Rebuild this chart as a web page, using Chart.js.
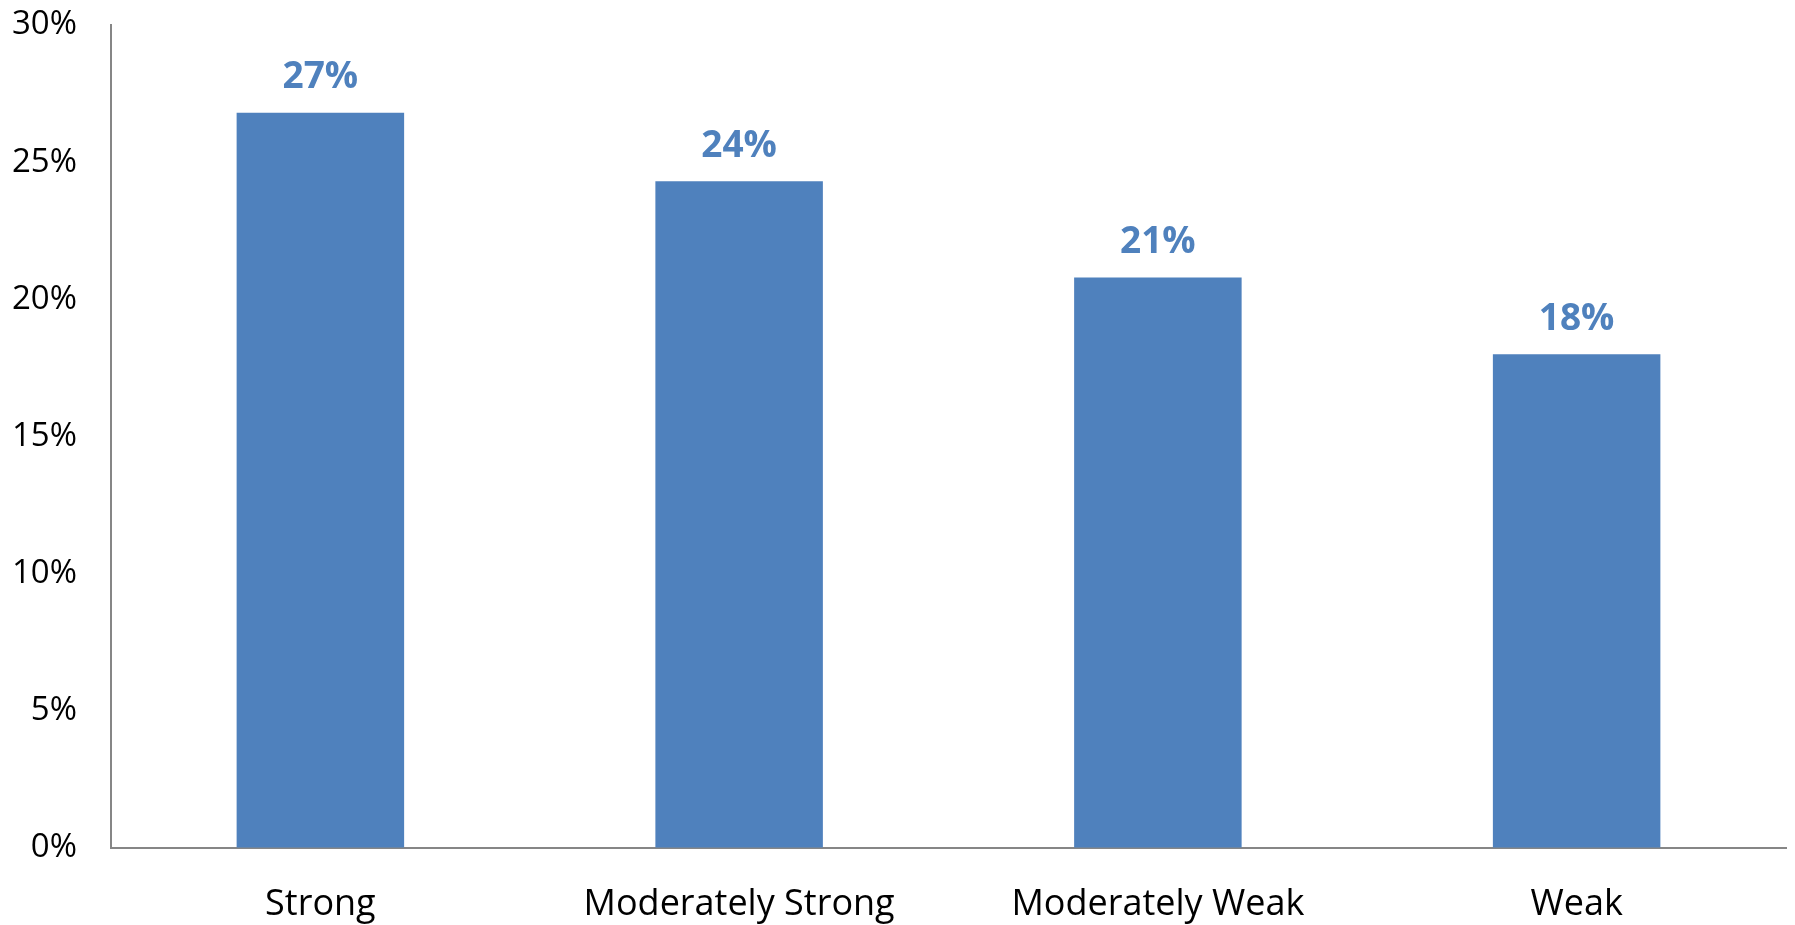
<!DOCTYPE html>
<html>
<head>
<meta charset="utf-8">
<script src="https://cdn.jsdelivr.net/npm/chart.js@4"></script>
<style>
  html, body { margin: 0; padding: 0; background: #fff; }
  #wrap { width: 1795px; height: 925px; }
</style>
</head>
<body>
<div id="wrap"><canvas id="strengthChart"></canvas></div>
<script>
// chart data
const categories = ['Strong', 'Moderately Strong', 'Moderately Weak', 'Weak'];
const shares = [26.8, 24.3, 20.8, 18.0];
const shareLabels = ['27%', '24%', '21%', '18%'];
const yTicks = [0, 5, 10, 15, 20, 25, 30];

const barColor = '#4F81BD';
const axisColor = '#868686';
const fontFamily = '"Open Sans", "Noto Sans", sans-serif';

// draws the value label above each bar
const barLabels = {
  id: 'barLabels',
  afterDatasetsDraw(chart) {
    const ctx = chart.ctx;
    const meta = chart.getDatasetMeta(0);
    ctx.save();
    ctx.fillStyle = barColor;
    ctx.font = 'bold 37px ' + fontFamily;
    ctx.textAlign = 'center';
    ctx.textBaseline = 'middle';
    meta.data.forEach(function(bar, i) {
      ctx.fillText(shareLabels[i], bar.x, bar.y - 35);
    });
    ctx.restore();
  }
};

document.addEventListener('DOMContentLoaded', function() {
  const ctx = document.getElementById('strengthChart').getContext('2d');
  new Chart(ctx, {
    type: 'bar',
    data: {
      labels: categories,
      datasets: [{
        data: shares,
        backgroundColor: barColor,
        categoryPercentage: 1,
        barPercentage: 0.4
      }]
    },
    options: {
      responsive: true,
      maintainAspectRatio: false,
      animation: false,
      plugins: {
        legend: { display: false },
        tooltip: { enabled: false }
      },
      layout: {
        padding: { top: 25, right: 9, left: 0, bottom: 0 }
      },
      scales: {
        y: {
          min: 0,
          max: 30,
          afterFit: function(scale) {
            scale.width = 111;
            scale.paddingTop = 0;
            scale.paddingBottom = 0;
          },
          afterBuildTicks: function(scale) {
            scale.ticks = yTicks.map(function(v) { return { value: v }; });
          },
          grid: { drawOnChartArea: false, drawTicks: false },
          border: { color: axisColor, width: 2 },
          ticks: {
            padding: 34,
            color: '#000',
            font: { family: fontFamily, size: 33 },
            callback: function(v) { return v + '%'; }
          }
        },
        x: {
          afterFit: function(scale) { scale.height = 77; },
          grid: { drawOnChartArea: false, drawTicks: false },
          border: { color: axisColor, width: 2 },
          ticks: {
            padding: 35,
            color: '#000',
            font: { family: fontFamily, size: 36 }
          }
        }
      }
    },
    plugins: [barLabels]
  });
});
</script>
</body>
</html>
